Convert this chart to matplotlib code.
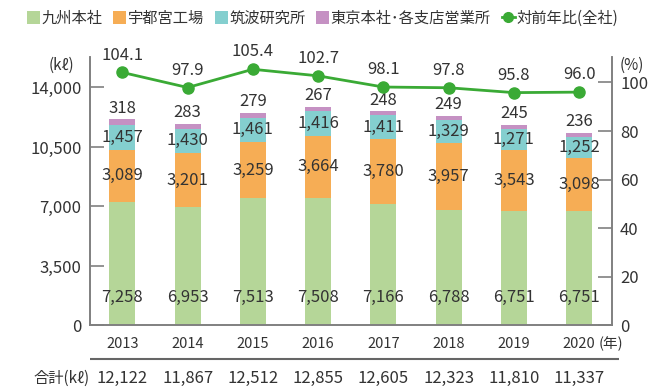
import numpy as np
import matplotlib as mpl
import matplotlib.pyplot as plt
from matplotlib.patches import Patch
from matplotlib.lines import Line2D

mpl.use("Agg")
plt.rcParams["font.family"] = ["Noto Sans CJK JP", "DejaVu Sans"]

years = ["2013", "2014", "2015", "2016", "2017", "2018", "2019", "2020"]
kyushu = [7258, 6953, 7513, 7508, 7166, 6788, 6751, 6751]
utsunomiya = [3089, 3201, 3259, 3664, 3780, 3957, 3543, 3098]
tsukuba = [1457, 1430, 1461, 1416, 1411, 1329, 1271, 1252]
tokyo = [318, 283, 279, 267, 248, 249, 245, 236]
yoy = [104.1, 97.9, 105.4, 102.7, 98.1, 97.8, 95.8, 96.0]
totals = ["12,122", "11,867", "12,512", "12,855", "12,605", "12,323", "11,810", "11,337"]

series_names = ["九州本社", "宇都宮工場", "筑波研究所", "東京本社･各支店営業所"]
colors = ["#b5d698", "#f6ad55", "#84cfcf", "#c591c3"]
line_color = "#3aaa35"
text_color = "#333333"
spine_color = "#808080"

fig = plt.figure(figsize=(6.7, 3.87), dpi=100)
ax = fig.add_axes([0.134, 0.159, 0.779, 0.694])
ax2 = ax.twinx()

x = np.arange(len(years))
width = 0.4
bottom = np.zeros(len(years))
segments = [kyushu, utsunomiya, tsukuba, tokyo]
for vals, c in zip(segments, colors):
    vals = np.array(vals)
    ax.bar(x, vals, width, bottom=bottom, color=c, zorder=2)
    bottom += vals

# value labels
for i in range(len(years)):
    ax.text(x[i], 1650, f"{kyushu[i]:,}", ha="center", va="center",
            fontsize=12, color=text_color, zorder=3)
    b = kyushu[i]
    ax.text(x[i], b + utsunomiya[i] / 2, f"{utsunomiya[i]:,}", ha="center",
            va="center", fontsize=12, color=text_color, zorder=3)
    b += utsunomiya[i]
    ax.text(x[i], b + tsukuba[i] / 2, f"{tsukuba[i]:,}", ha="center",
            va="center", fontsize=12, color=text_color, zorder=3)
    b += tsukuba[i] + tokyo[i]
    ax.annotate(f"{tokyo[i]}", (x[i], b), xytext=(0, 8), textcoords="offset points",
                ha="center", va="center", fontsize=12, color=text_color)

ax.set_xlim(-0.5, 7.5)
ax.set_ylim(0, 15800)
ax.set_yticks([0, 3500, 7000, 10500, 14000])
ax.set_yticklabels(["0", "3,500", "7,000", "10,500", "14,000"])
ax.set_xticks(x)
ax.set_xticklabels(years)

ax2.plot(x, yoy, color=line_color, lw=2, marker="o", ms=8, zorder=4)
for i, v in enumerate(yoy):
    ax2.annotate(f"{v:.1f}", (x[i], v), xytext=(0, 12.5), textcoords="offset points",
                 ha="center", va="center", fontsize=12, color=text_color)
ax2.set_ylim(0, 110.5)
ax2.set_yticks([0, 20, 40, 60, 80, 100])

for a in (ax, ax2):
    a.spines["top"].set_visible(False)
    for s in ["left", "right", "bottom"]:
        a.spines[s].set_color(spine_color)
        a.spines[s].set_linewidth(1.2)
    a.tick_params(axis="y", direction="in", length=10, width=1.2, color=spine_color,
                  labelsize=12, labelcolor=text_color, pad=6)
ax.tick_params(axis="x", length=0, labelsize=10.5, labelcolor=text_color, pad=8)

ax.text(-0.03, 1.0, "(kℓ)", transform=ax.transAxes, ha="right", va="top",
        fontsize=11, color=text_color)
ax2.text(1.015, 1.0, "(%)", transform=ax.transAxes, ha="left", va="top",
         fontsize=11, color=text_color)
ax.text(7.3, -0.07, "(年)", transform=ax.get_xaxis_transform(), ha="left",
        va="center", fontsize=10.5, color=text_color)

# separator between year row and totals row
sep = fig.add_axes([0.134, 0.068, 0.79, 0.01])
sep.axis("off")
sep.axhline(0.5, color="#666666", lw=1.5)
sep.set_ylim(0, 1)

ax.text(-0.5, -0.196, "合計(kℓ)", transform=ax.get_xaxis_transform(), ha="right",
        va="center", fontsize=11, color=text_color)
for i, t in enumerate(totals):
    ax.text(x[i], -0.196, t, transform=ax.get_xaxis_transform(), ha="center",
            va="center", fontsize=12, color=text_color)

handles = [Patch(facecolor=c, edgecolor="none") for c in colors]
handles.append(Line2D([], [], color=line_color, lw=2, marker="o", ms=7))
fig.legend(handles, series_names + ["対前年比(全社)"], loc="upper left",
           bbox_to_anchor=(0.02, 1.01), ncol=5, frameon=False, fontsize=11,
           handlelength=0.85, handleheight=0.85, handletextpad=0.1,
           columnspacing=0.7, labelcolor=text_color)

fig.savefig("out.png", dpi=100)
